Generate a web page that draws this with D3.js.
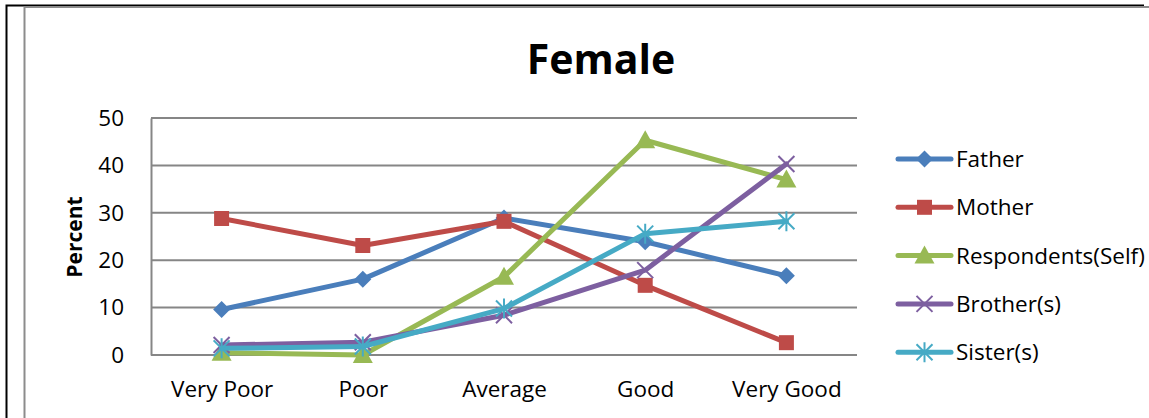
<!DOCTYPE html>
<html>
<head>
<meta charset="utf-8">
<script src="https://cdn.jsdelivr.net/npm/d3@7"></script>
<style>
  html, body { margin: 0; padding: 0; background: #fff; }
  svg { display: block; }
  text { font-family: "Open Sans", Lato, sans-serif; fill: #000; }
</style>
</head>
<body>
<svg id="chart" width="1149" height="418"></svg>
<script>
// Rating categories along the x axis
const categories = ["Very Poor", "Poor", "Average", "Good", "Very Good"];

// Percent of female respondents per rating, by family member
const father      = [9.6, 16.0, 28.9, 23.9, 16.7];
const mother      = [28.8, 23.1, 28.2, 14.7, 2.6];
const respondents = [0.5, 0.0, 16.5, 45.3, 37.0];
const brothers    = [2.1, 2.7, 8.4, 17.9, 40.3];
const sisters     = [1.4, 1.8, 9.8, 25.6, 28.2];

const seriesNames = ["Father", "Mother", "Respondents(Self)", "Brother(s)", "Sister(s)"];
const yTicks = [0, 10, 20, 30, 40, 50];

const series = [
  { name: seriesNames[0], values: father,      color: "#4A7EBB", marker: "diamond" },
  { name: seriesNames[1], values: mother,      color: "#BE4B48", marker: "square" },
  { name: seriesNames[2], values: respondents, color: "#98B954", marker: "triangle" },
  { name: seriesNames[3], values: brothers,    color: "#7D5FA0", marker: "x" },
  { name: seriesNames[4], values: sisters,     color: "#46AAC5", marker: "star" }
];

const FONT = "'Open Sans', Lato, sans-serif";
const LABEL_SIZE = 22.5;
const svg = d3.select("#chart");

// Page frame and chart border
svg.append("path").attr("d", "M6.5,418 V5.5 H1144")
  .attr("fill", "none").attr("stroke", "#000").attr("stroke-width", 2);
svg.append("path").attr("d", "M24.5,418 V7 H1149")
  .attr("fill", "none").attr("stroke", "#8c8c8c").attr("stroke-width", 2);

const plot = { left: 151, right: 857, top: 118, bottom: 355 };

const x = d3.scalePoint().domain(categories)
  .range([plot.left, plot.right]).padding(0.5);
const y = d3.scaleLinear().domain([0, 50]).range([plot.bottom, plot.top]);

// Horizontal gridlines
svg.append("g").selectAll("line").data(yTicks).join("line")
  .attr("x1", plot.left).attr("x2", plot.right)
  .attr("y1", d => y(d)).attr("y2", d => y(d))
  .attr("stroke", "#868686").attr("stroke-width", 2);

// Y axis
const yAxis = svg.append("g").attr("transform", `translate(${plot.left},0)`)
  .call(d3.axisLeft(y).tickValues(yTicks).tickSize(0).tickPadding(27));
yAxis.select(".domain").attr("stroke", "#868686").attr("stroke-width", 2);
yAxis.selectAll("text").attr("font-size", LABEL_SIZE).style("font-family", FONT).attr("fill", "#000");

// X axis
const xAxis = svg.append("g").attr("transform", `translate(0,${plot.bottom})`)
  .call(d3.axisBottom(x).tickSize(0).tickPadding(26));
xAxis.select(".domain").remove();
xAxis.selectAll("text").attr("font-size", LABEL_SIZE).style("font-family", FONT).attr("fill", "#000");

// Titles
svg.append("text").attr("x", 601).attr("y", 74).attr("text-anchor", "middle")
  .attr("font-size", 41).attr("font-weight", "bold").text("Female");
svg.append("text").attr("transform", "translate(82,237) rotate(-90)")
  .attr("text-anchor", "middle").attr("font-size", 21).attr("font-weight", "bold")
  .text("Percent");

// Marker shapes
function drawMarker(g, type, color) {
  if (type === "diamond") {
    g.append("path").attr("d", "M0,-8.5 L8.5,0 L0,8.5 L-8.5,0 Z").attr("fill", color);
  } else if (type === "square") {
    g.append("rect").attr("x", -7.5).attr("y", -7.5).attr("width", 15).attr("height", 15).attr("fill", color);
  } else if (type === "triangle") {
    g.append("path").attr("d", "M0,-10 L10,8 L-10,8 Z").attr("fill", color);
  } else if (type === "x") {
    g.append("path").attr("d", "M-8,-8 L8,8 M-8,8 L8,-8")
      .attr("stroke", color).attr("stroke-width", 2).attr("fill", "none");
  } else if (type === "star") {
    g.append("path").attr("d", "M-8,-8 L8,8 M-8,8 L8,-8 M0,-10 L0,10")
      .attr("stroke", color).attr("stroke-width", 2).attr("fill", "none");
  }
}

const line = d3.line().x((d, i) => x(categories[i])).y(d => y(d));

series.forEach(s => {
  const g = svg.append("g");
  g.append("path").datum(s.values).attr("d", line)
    .attr("fill", "none").attr("stroke", s.color).attr("stroke-width", 5)
    .attr("stroke-linejoin", "round").attr("stroke-linecap", "round");
  s.values.forEach((v, i) => {
    const m = g.append("g").attr("transform", `translate(${x(categories[i])},${y(v)})`);
    drawMarker(m, s.marker, s.color);
  });
});

// Legend
const legend = svg.append("g");
series.forEach((s, i) => {
  const ly = 159 + i * 48.3;
  const row = legend.append("g").attr("transform", `translate(0,${ly})`);
  row.append("line").attr("x1", 898).attr("x2", 951).attr("y1", 0).attr("y2", 0)
    .attr("stroke", s.color).attr("stroke-width", 5).attr("stroke-linecap", "round");
  const m = row.append("g").attr("transform", "translate(924.5,0)");
  drawMarker(m, s.marker, s.color);
  row.append("text").attr("x", 956).attr("y", 0).attr("dy", "0.36em")
    .attr("font-size", LABEL_SIZE).text(s.name);
});
</script>
</body>
</html>
